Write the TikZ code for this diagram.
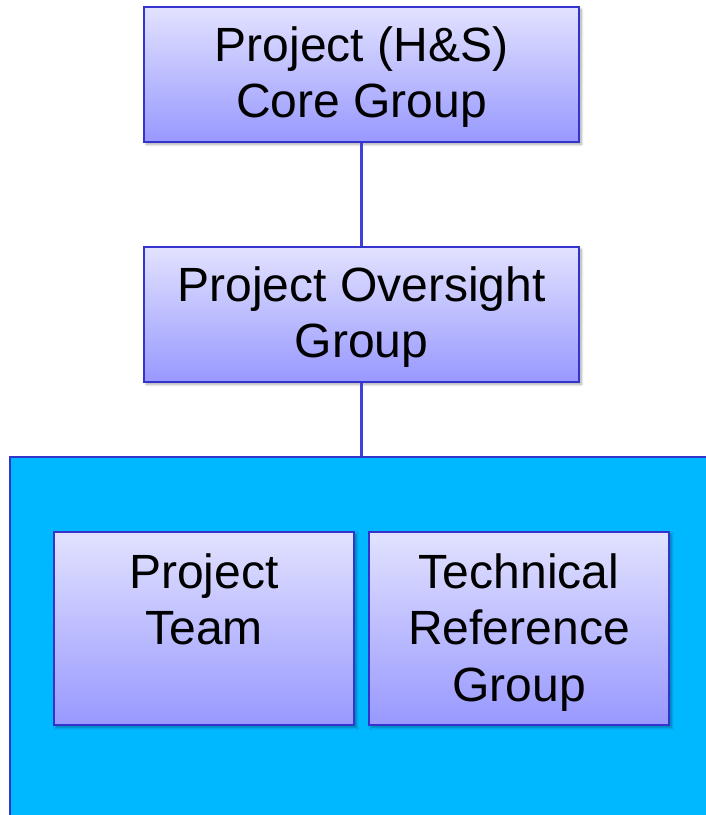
\documentclass[tikz,border=0pt]{standalone}
\usepackage{fontspec}
\setmainfont{Liberation Sans}
\usetikzlibrary{shadows.blur}
\definecolor{boxline}{HTML}{3434CC}
\definecolor{linkline}{HTML}{4040D8}
\definecolor{boxtop}{HTML}{E2E2FF}
\definecolor{boxbottom}{HTML}{9898FF}
\definecolor{panelblue}{HTML}{00B8FF}
\begin{document}
\begin{tikzpicture}[x=0.03cm, y=-0.03cm,
    grpbox/.style={draw=boxline, line width=1.4pt, top color=boxtop, bottom color=boxbottom,
      blur shadow={shadow xshift=2pt, shadow yshift=-2pt, shadow blur steps=6, shadow opacity=35},
      inner sep=0pt, align=center, text depth=4pt, font=\fontsize{41}{48.5}\selectfont},
    grptext/.style={inner sep=0pt, align=center, font=\fontsize{41}{48.5}\selectfont},
    link/.style={draw=linkline, line width=2pt}]
  \path[use as bounding box, clip] (0,0) rectangle (706,815);

  % blue panel round the two working groups
  \node [draw=boxline, line width=1.4pt, fill=panelblue, minimum width=22cm, minimum height=11.4cm,
         anchor=north west] at (9,456) (Panel) {};

  \node [grpbox, minimum width=13.05cm, minimum height=4.05cm] at (361.5,74.5)  (Core)      {Project (H\&S)\\Core Group};
  \node [grpbox, minimum width=13.05cm, minimum height=4.05cm] at (361.5,314.5) (Oversight) {Project Oversight\\Group};

  \node [grpbox, minimum width=9cm, minimum height=5.79cm] at (204,628.5) (Team) {};
  \node [grpbox, minimum width=9cm, minimum height=5.79cm] at (519,628.5) (Tech) {};
  \node [grptext, anchor=north] at (204,553) (TeamText) {Project\\Team};
  \node [grptext, anchor=north] at (519,553) (TechText) {Technical\\Reference\\Group};

  \draw [link] (Core.south) -- (Oversight.north);
  \draw [link] (Oversight.south) -- (Oversight.south |- Panel.north);
\end{tikzpicture}
\end{document}
